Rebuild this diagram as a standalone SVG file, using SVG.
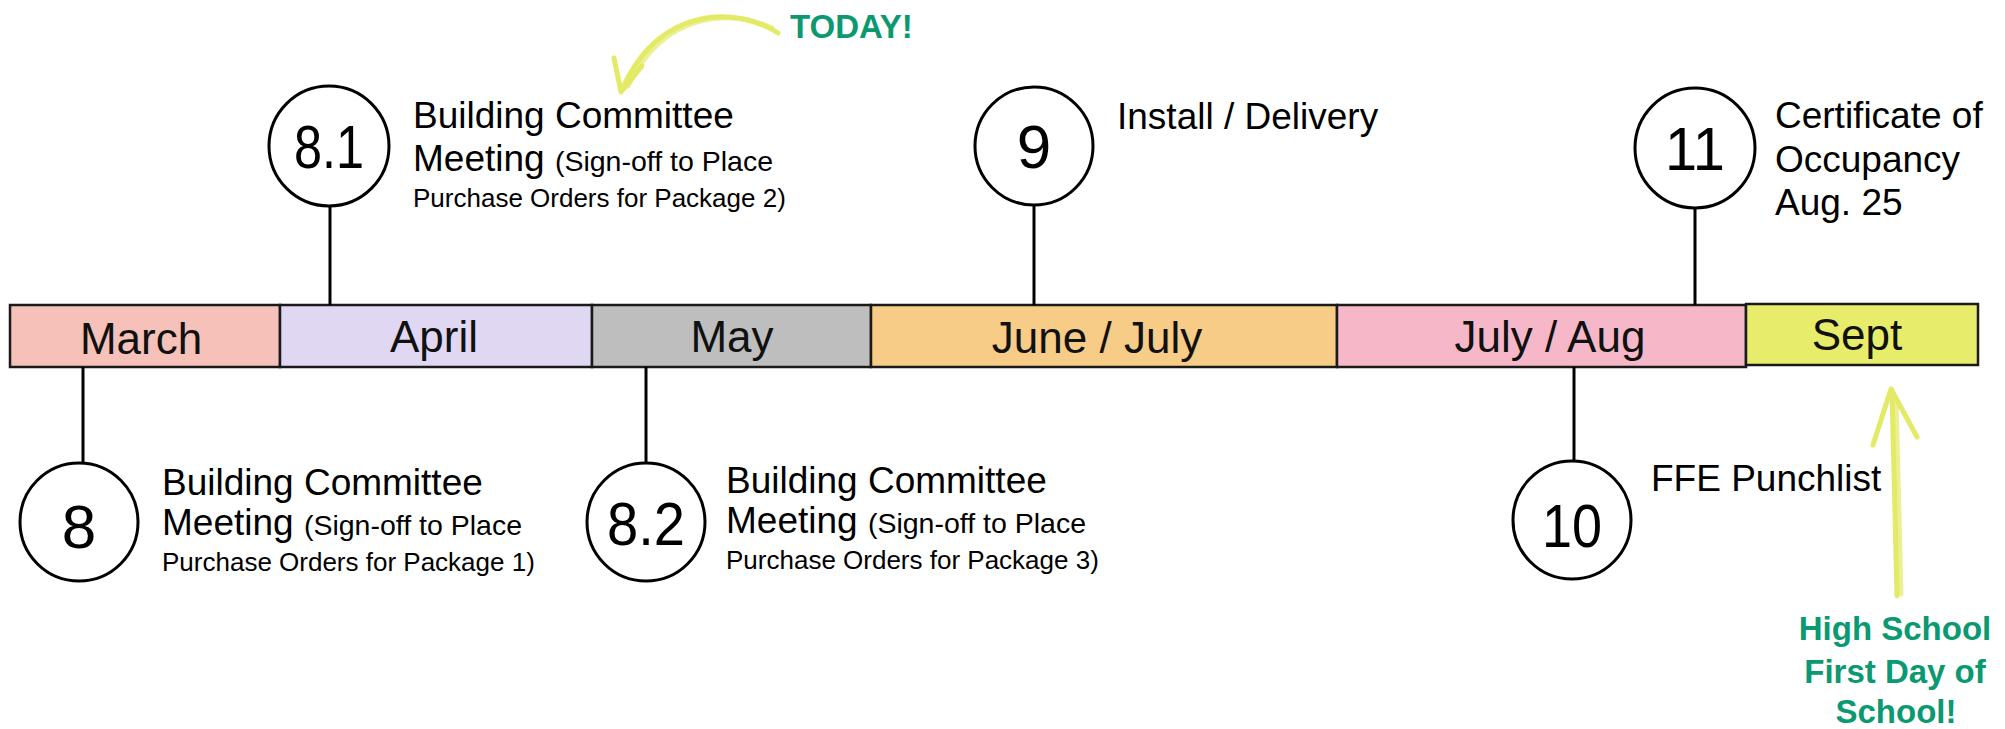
<svg xmlns="http://www.w3.org/2000/svg" width="2005" height="729" viewBox="0 0 2005 729">
<style>
.bar{stroke:#1a1a1a;stroke-width:2.5}
.mon{font-family:"Liberation Sans",Arial,sans-serif;font-size:44px;fill:#111;text-anchor:middle}
.circ{fill:#fff;stroke:#000;stroke-width:3}
.num{font-family:"Liberation Sans",Arial,sans-serif;font-size:62px;fill:#000;text-anchor:middle}
.lbl{font-family:"Liberation Sans",Arial,sans-serif;font-size:37px;fill:#000}
.sm{font-size:28.5px}
.sm2{font-size:26px}
.conn{stroke:#000;stroke-width:3;fill:none}
.hl{stroke:#e3ea66;stroke-width:5;fill:none;stroke-linecap:round;stroke-linejoin:round}
.grn{font-family:"Liberation Sans",Arial,sans-serif;font-weight:bold;font-size:33px;fill:#0a9970}
</style>
<rect width="2005" height="729" fill="#fff"/>
<g id="timeline">
<rect class="bar" x="10" y="305" width="270" height="62" fill="#f6c1b8"/>
<rect class="bar" x="280" y="305" width="312" height="62" fill="#e0d7f3"/>
<rect class="bar" x="592" y="305" width="279" height="62" fill="#bebebe"/>
<rect class="bar" x="871" y="305" width="466" height="62" fill="#f7cc86"/>
<rect class="bar" x="1337" y="305" width="409" height="62" fill="#f6b8c8" stroke-width="3"/>
<rect class="bar" x="1746" y="304" width="232" height="61" fill="#e8ec6b" stroke-width="3"/>
<text class="mon" x="141" y="354">March</text>
<text class="mon" x="434" y="352">April</text>
<text class="mon" x="732" y="352">May</text>
<text class="mon" x="1097" y="353">June / July</text>
<text class="mon" x="1550" y="352">July / Aug</text>
<text class="mon" x="1857" y="350">Sept</text>
</g>
<g id="connectors">
<line class="conn" x1="330" y1="205" x2="330" y2="305"/>
<line class="conn" x1="1034" y1="205" x2="1034" y2="305"/>
<line class="conn" x1="1695" y1="208" x2="1695" y2="305"/>
<line class="conn" x1="83" y1="367" x2="83" y2="464"/>
<line class="conn" x1="646" y1="367" x2="646" y2="463"/>
<line class="conn" x1="1574" y1="367" x2="1574" y2="461"/>
</g>
<g id="m8_1">
<circle class="circ" cx="329" cy="146" r="60"/>
<text class="num" x="329" y="168" textLength="70" lengthAdjust="spacingAndGlyphs">8.1</text>
<text class="lbl" x="413" y="128">Building Committee</text>
<text class="lbl" x="413" y="171">Meeting <tspan class="sm">(Sign-off to Place</tspan></text>
<text class="lbl sm2" x="413" y="207">Purchase Orders for Package 2)</text>
</g>
<g id="m9">
<circle class="circ" cx="1034" cy="146" r="59"/>
<text class="num" x="1034" y="168">9</text>
<text class="lbl" x="1117" y="129">Install / Delivery</text>
</g>
<g id="m11">
<circle class="circ" cx="1695" cy="148" r="60"/>
<text class="num" x="1695" y="170" textLength="60" lengthAdjust="spacingAndGlyphs">11</text>
<text class="lbl" x="1775" y="128">Certificate of</text>
<text class="lbl" x="1775" y="172">Occupancy</text>
<text class="lbl" x="1775" y="215">Aug. 25</text>
</g>
<g id="m8">
<circle class="circ" cx="79" cy="522" r="59"/>
<text class="num" x="79" y="548">8</text>
<text class="lbl" x="162" y="495">Building Committee</text>
<text class="lbl" x="162" y="535">Meeting <tspan class="sm">(Sign-off to Place</tspan></text>
<text class="lbl sm2" x="162" y="571">Purchase Orders for Package 1)</text>
</g>
<g id="m8_2">
<circle class="circ" cx="646" cy="522" r="59"/>
<text class="num" x="646" y="545" textLength="78" lengthAdjust="spacingAndGlyphs">8.2</text>
<text class="lbl" x="726" y="493">Building Committee</text>
<text class="lbl" x="726" y="533">Meeting <tspan class="sm">(Sign-off to Place</tspan></text>
<text class="lbl sm2" x="726" y="569">Purchase Orders for Package 3)</text>
</g>
<g id="m10">
<circle class="circ" cx="1572" cy="520" r="59"/>
<text class="num" x="1572" y="547" textLength="60" lengthAdjust="spacingAndGlyphs">10</text>
<text class="lbl" x="1651" y="491">FFE Punchlist</text>
</g>
<g id="today">
<path class="hl" d="M778 33 C740 8 660 2 622 90"/>
<path class="hl" d="M772 28 C735 10 665 8 628 86" stroke-width="3" opacity="0.7"/>
<path class="hl" d="M614 58 L621 92 L642 66"/>
<text class="grn" x="790" y="38" font-size="34">TODAY!</text>
</g>
<g id="firstday">
<path class="hl" d="M1897 596 L1892 390"/>
<path class="hl" d="M1901 594 L1896 400" stroke-width="3" opacity="0.7"/>
<path class="hl" d="M1873 445 L1891 389 L1917 437"/>
<text class="grn" text-anchor="middle" x="1895" y="640">High School</text>
<text class="grn" text-anchor="middle" x="1895" y="683">First Day of</text>
<text class="grn" text-anchor="middle" x="1896" y="723">School!</text>
</g>
</svg>
